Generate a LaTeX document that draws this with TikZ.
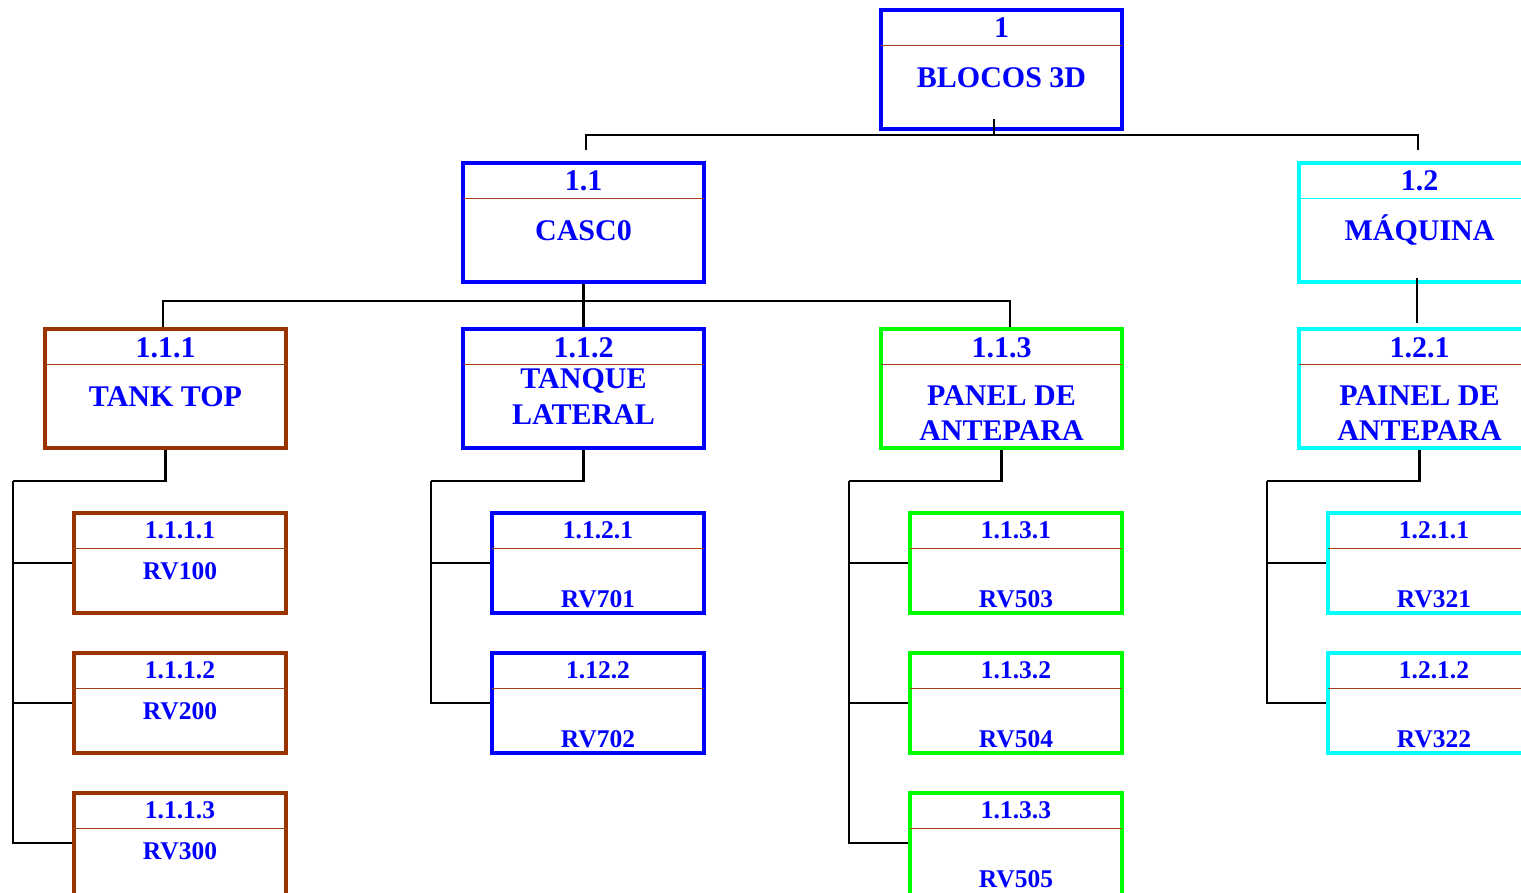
\documentclass[tikz,border=0pt]{standalone}
\usepackage{fontspec}
\setmainfont{Liberation Serif}
\usetikzlibrary{calc}
\definecolor{wbrown}{HTML}{993300}
\definecolor{wsepc}{HTML}{A0401F}
\definecolor{wblue}{HTML}{0000FF}
\definecolor{wgreen}{HTML}{00FF00}
\definecolor{wcyan}{HTML}{00FFFF}
\newcommand\wsep[2]{\draw[sepline=#2] ([xshift=2pt,yshift=-37.5pt]#1.north west) -- ([xshift=-2pt,yshift=-37.5pt]#1.north east);}
\begin{document}
\begin{tikzpicture}[x=1pt,y=-1pt,
 bigbox/.style={draw=#1, line width=4pt, minimum width=241pt, minimum height=119pt, inner sep=0pt},
 smallbox/.style={draw=#1, line width=4pt, minimum width=212pt, minimum height=100pt, inner sep=0pt},
 lastbox/.style={draw=#1, line width=4pt, minimum width=212pt, minimum height=108pt, inner sep=0pt},
 sepline/.style={draw=#1, line width=1.5pt},
 conn/.style={draw=black, line width=2.2pt},
 bigtxt/.style={text=wblue, font=\fontsize{30}{36}\selectfont\bfseries, inner sep=0pt, anchor=base},
 smalltxt/.style={text=wblue, font=\fontsize{25.5}{30}\selectfont\bfseries, inner sep=0pt, anchor=base}]
\useasboundingbox (0,0) rectangle (1521,892);
\clip (0,0) rectangle (1521,892);

% level 1
\node[bigbox=wblue] (n1) at (1001.5,69.5) {};
% level 2
\node[bigbox=wblue] (n11) at (583.5,222.5) {};
\node[bigbox=wcyan] (n12) at (1419.5,222.5) {};
% level 3
\node[bigbox=wbrown] (n111) at (165.5,388.5) {};
\node[bigbox=wblue]  (n112) at (583.5,388.5) {};
\node[bigbox=wgreen] (n113) at (1001.5,388.5) {};
\node[bigbox=wcyan]  (n121) at (1419.5,388.5) {};
% level 4
\node[smallbox=wbrown] (n1111) at (180,563) {};
\node[smallbox=wbrown] (n1112) at (180,703) {};
\node[lastbox=wbrown] (n1113) at (180,847) {};
\node[smallbox=wblue] (n1121) at (598,563) {};
\node[smallbox=wblue] (n1122) at (598,703) {};
\node[smallbox=wgreen] (n1131) at (1016,563) {};
\node[smallbox=wgreen] (n1132) at (1016,703) {};
\node[lastbox=wgreen] (n1133) at (1016,847) {};
\node[smallbox=wcyan] (n1211) at (1434,563) {};
\node[smallbox=wcyan] (n1212) at (1434,703) {};

% separators
\wsep{n1}{wsepc}
\wsep{n11}{wsepc}
\wsep{n12}{wcyan}
\wsep{n111}{wsepc}
\wsep{n112}{wsepc}
\wsep{n113}{wsepc}
\wsep{n121}{wsepc}
\wsep{n1111}{wsepc}
\wsep{n1112}{wsepc}
\wsep{n1113}{wsepc}
\wsep{n1121}{wsepc}
\wsep{n1122}{wsepc}
\wsep{n1131}{wsepc}
\wsep{n1132}{wsepc}
\wsep{n1133}{wsepc}
\wsep{n1211}{wsepc}
\wsep{n1212}{wsepc}

% texts level 1-2
\node[bigtxt] (t1a) at ([yshift=-29pt]n1.north) {1};
\node[bigtxt] (t1b) at ([yshift=-79pt]n1.north) {BLOCOS 3D};
\node[bigtxt] (t11a) at ([yshift=-29pt]n11.north) {1.1};
\node[bigtxt] (t11b) at ([yshift=-79pt]n11.north) {CASC0};
\node[bigtxt] (t12a) at ([yshift=-29pt]n12.north) {1.2};
\node[bigtxt] (t12b) at ([yshift=-79pt]n12.north) {MÁQUINA};
% level 3
\node[bigtxt] (t111a) at ([yshift=-30pt]n111.north) {1.1.1};
\node[bigtxt] (t111b) at ([yshift=-79pt]n111.north) {TANK TOP};
\node[bigtxt] (t112a) at ([yshift=-30pt]n112.north) {1.1.2};
\node[bigtxt] (t112b) at ([yshift=-61pt]n112.north) {TANQUE};
\node[bigtxt] (t112c) at ([yshift=-97pt]n112.north) {LATERAL};
\node[bigtxt] (t113a) at ([yshift=-30pt]n113.north) {1.1.3};
\node[bigtxt] (t113b) at ([yshift=-78pt]n113.north) {PANEL DE};
\node[bigtxt] (t113c) at ([yshift=-113pt]n113.north) {ANTEPARA};
\node[bigtxt] (t121a) at ([yshift=-30pt]n121.north) {1.2.1};
\node[bigtxt] (t121b) at ([yshift=-78pt]n121.north) {PAINEL DE};
\node[bigtxt] (t121c) at ([yshift=-113pt]n121.north) {ANTEPARA};
% level 4
\node[smalltxt] (t1111a) at ([yshift=-27pt]n1111.north) {1.1.1.1};
\node[smalltxt] (t1111b) at ([yshift=-68pt]n1111.north) {RV100};
\node[smalltxt] (t1112a) at ([yshift=-27pt]n1112.north) {1.1.1.2};
\node[smalltxt] (t1112b) at ([yshift=-68pt]n1112.north) {RV200};
\node[smalltxt] (t1113a) at ([yshift=-27pt]n1113.north) {1.1.1.3};
\node[smalltxt] (t1113b) at ([yshift=-68pt]n1113.north) {RV300};
\node[smalltxt] (t1121a) at ([yshift=-27pt]n1121.north) {1.1.2.1};
\node[smalltxt] (t1121b) at ([yshift=-96pt]n1121.north) {RV701};
\node[smalltxt] (t1122a) at ([yshift=-27pt]n1122.north) {1.12.2};
\node[smalltxt] (t1122b) at ([yshift=-96pt]n1122.north) {RV702};
\node[smalltxt] (t1131a) at ([yshift=-27pt]n1131.north) {1.1.3.1};
\node[smalltxt] (t1131b) at ([yshift=-96pt]n1131.north) {RV503};
\node[smalltxt] (t1132a) at ([yshift=-27pt]n1132.north) {1.1.3.2};
\node[smalltxt] (t1132b) at ([yshift=-96pt]n1132.north) {RV504};
\node[smalltxt] (t1133a) at ([yshift=-27pt]n1133.north) {1.1.3.3};
\node[smalltxt] (t1133b) at ([yshift=-96pt]n1133.north) {RV505};
\node[smalltxt] (t1211a) at ([yshift=-27pt]n1211.north) {1.2.1.1};
\node[smalltxt] (t1211b) at ([yshift=-96pt]n1211.north) {RV321};
\node[smalltxt] (t1212a) at ([yshift=-27pt]n1212.north) {1.2.1.2};
\node[smalltxt] (t1212b) at ([yshift=-96pt]n1212.north) {RV322};

% connectors level 1 -> 2
\coordinate (h1) at (994,135);
\draw[conn] ([xshift=-7.5pt,yshift=12pt]n1.south) -- (h1);
\draw[conn] ([xshift=2.5pt,yshift=11pt]n11.north) |- (h1) -| ([xshift=-1.5pt,yshift=11pt]n12.north);
% level 2 -> 3
\coordinate (h2) at (583,301);
\draw[conn] (n11.south) -- (n112.north);
\draw[conn] ([xshift=-2.5pt]n111.north) |- (h2) -| ([xshift=8.5pt]n113.north);
\draw[conn] ([xshift=-2.5pt,yshift=6pt]n12.south) -- ([xshift=-2.5pt,yshift=4pt]n121.north);
% level 3 -> 4
\coordinate (s111) at (13,481);
\draw[conn] (n111.south) |- (s111);
\draw[conn] (s111) |- (n1111.west);
\draw[conn] (s111) |- (n1112.west);
\draw[conn] (s111) |- ([yshift=4pt]n1113.west);
\coordinate (s112) at (431,481);
\draw[conn] (n112.south) |- (s112);
\draw[conn] (s112) |- (n1121.west);
\draw[conn] (s112) |- (n1122.west);
\coordinate (s113) at (849,481);
\draw[conn] (n113.south) |- (s113);
\draw[conn] (s113) |- (n1131.west);
\draw[conn] (s113) |- (n1132.west);
\draw[conn] (s113) |- ([yshift=4pt]n1133.west);
\coordinate (s121) at (1267,481);
\draw[conn] (n121.south) |- (s121);
\draw[conn] (s121) |- (n1211.west);
\draw[conn] (s121) |- (n1212.west);
\end{tikzpicture}
\end{document}
